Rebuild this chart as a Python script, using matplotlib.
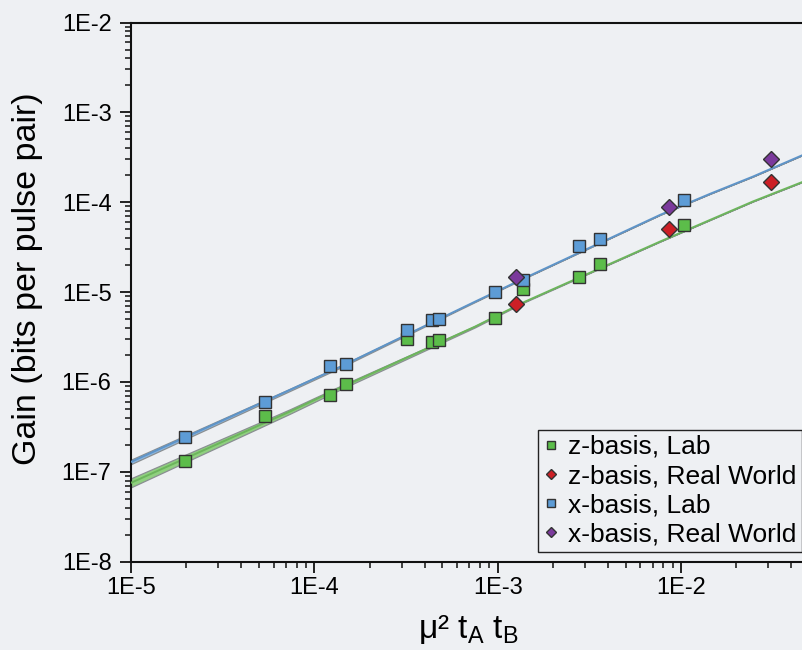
import numpy as np
import matplotlib
matplotlib.use('Agg')
import matplotlib.pyplot as plt
from matplotlib.ticker import LogLocator, FuncFormatter, NullFormatter

plt.rcParams['font.family'] = ['Liberation Sans', 'DejaVu Sans']
plt.rcParams['mathtext.default'] = 'regular'

# ---- data ----
lab_x = [1.97e-5, 5.38e-5, 1.22e-4, 1.49e-4, 3.21e-4, 4.39e-4, 4.79e-4,
         9.68e-4, 1.38e-3, 2.78e-3, 3.62e-3, 1.04e-2]
z_lab_y = [1.32e-7, 4.2e-7, 7.19e-7, 9.52e-7, 3.01e-6, 2.79e-6, 2.94e-6,
           5.16e-6, 1.09e-5, 1.48e-5, 2.06e-5, 5.59e-5]
x_lab_y = [2.45e-7, 6.01e-7, 1.51e-6, 1.59e-6, 3.80e-6, 4.91e-6, 5.04e-6,
           1.00e-5, 1.37e-5, 3.27e-5, 3.91e-5, 1.06e-4]

rw_x = [1.26e-3, 8.61e-3, 3.10e-2]
z_rw_y = [7.4e-6, 5.05e-5, 1.68e-4]
x_rw_y = [1.48e-5, 8.87e-5, 3.03e-4]

fit_x = [1.0e-5, 7.36e-5, 1.38e-4, 7.53e-4, 1.41e-3, 7.69e-3, 1.44e-2, 2.47e-2, 4.63e-2]
z_fit_y = [7.55e-8, 4.69e-7, 8.59e-7, 4.13e-6, 7.83e-6, 3.65e-5, 6.35e-5, 1.02e-4, 1.69e-4]
x_fit_y = [1.29e-7, 8.17e-7, 1.47e-6, 7.83e-6, 1.44e-5, 7.23e-5, 1.24e-4, 1.93e-4, 3.36e-4]
# half-width of the fit uncertainty band (decades)
z_band = [0.05, 0.025, 0.02, 0.008, 0.004, 0, 0, 0, 0]
x_band = [0.025, 0.012, 0.01, 0.004, 0.002, 0, 0, 0, 0]

labels = ['z-basis, Lab', 'z-basis, Real World', 'x-basis, Lab', 'x-basis, Real World']

# ---- styles ----
bg = '#eef0f3'
c_green = '#5cbd4a'
c_blue = '#5d9cd6'
c_red = '#cc1f26'
c_purple = '#7b3a9c'
c_green_line = '#6cb55c'
c_blue_line = '#5e94c8'

fig = plt.figure(figsize=(8.03, 6.5), dpi=100)
fig.patch.set_facecolor(bg)
ax = fig.add_axes([131/803, 1-561.7/650, 1-131/803, (561.7-22.5)/650])
ax.set_facecolor(bg)
ax.set_xscale('log')
ax.set_yscale('log')
ax.set_xlim(1e-5, 4.63e-2)
ax.set_ylim(1e-8, 1e-2)

fx = np.array(fit_x)
for fy, band, fc, lc in [(z_fit_y, z_band, '#8fd07f', c_green_line),
                          (x_fit_y, x_band, '#8ab8e3', c_blue_line)]:
    fy = np.array(fy)
    b = 10 ** np.array(band)
    ax.fill_between(fx, fy / b, fy * b, facecolor=fc, edgecolor='#8a8f92',
                    linewidth=0.9, zorder=2)
    ax.plot(fx, fy, color=lc, lw=1.4, zorder=3)

sq = dict(marker='s', ms=8, mec='#333333', mew=1.0, ls='none', zorder=5)
dm = dict(marker='D', ms=8, mec='#333333', mew=1.0, ls='none', zorder=6)
h1, = ax.plot(lab_x, z_lab_y, mfc=c_green, label=labels[0], **sq)
h3, = ax.plot(lab_x, x_lab_y, mfc=c_blue, label=labels[2], **sq)
h2, = ax.plot(rw_x, z_rw_y, mfc=c_red, label=labels[1], **dm)
h4, = ax.plot(rw_x, x_rw_y, mfc=c_purple, label=labels[3], **dm)

ax.spines['right'].set_visible(False)
for side in ['left', 'bottom', 'top']:
    ax.spines[side].set_linewidth(1.5)
    ax.spines[side].set_color('#111111')

fmt = FuncFormatter(lambda v, p: '1E%d' % int(round(np.log10(v))))
ax.xaxis.set_major_locator(LogLocator(base=10, numticks=20))
ax.yaxis.set_major_locator(LogLocator(base=10, numticks=20))
ax.xaxis.set_minor_locator(LogLocator(base=10, subs=np.arange(2, 10), numticks=20))
ax.yaxis.set_minor_locator(LogLocator(base=10, subs=np.arange(2, 10), numticks=20))
ax.xaxis.set_major_formatter(fmt)
ax.yaxis.set_major_formatter(fmt)
ax.xaxis.set_minor_formatter(NullFormatter())
ax.yaxis.set_minor_formatter(NullFormatter())
ax.tick_params(which='major', direction='out', length=8, width=1.3, labelsize=17,
               color='#111111', top=False, right=False)
ax.tick_params(which='minor', direction='out', length=4, width=1.1,
               color='#111111', top=False, right=False)
ax.tick_params(axis='y', which='major', pad=6)
ax.tick_params(axis='x', which='major', pad=3)

fig.text(28/803, 1-279/650, 'Gain (bits per pulse pair)', rotation=90,
         ha='center', va='center', fontsize=24.5)
fig.text(468/803, 1-630/650, r'μ² t$_{A}$ t$_{B}$', ha='center', va='center',
         fontsize=24)

leg = ax.legend(handles=[h1, h2, h3, h4], loc='lower right',
                bbox_to_anchor=(802/803, 1-552/650), bbox_transform=fig.transFigure,
                borderaxespad=0, fontsize=19, markerscale=0.7, handlelength=0.6,
                handletextpad=0.35, labelspacing=0.2, borderpad=0.2,
                fancybox=False, framealpha=1, facecolor=bg, edgecolor='#222222')
leg.get_frame().set_linewidth(1.0)

fig.savefig('out.png', dpi=100, facecolor=bg)
